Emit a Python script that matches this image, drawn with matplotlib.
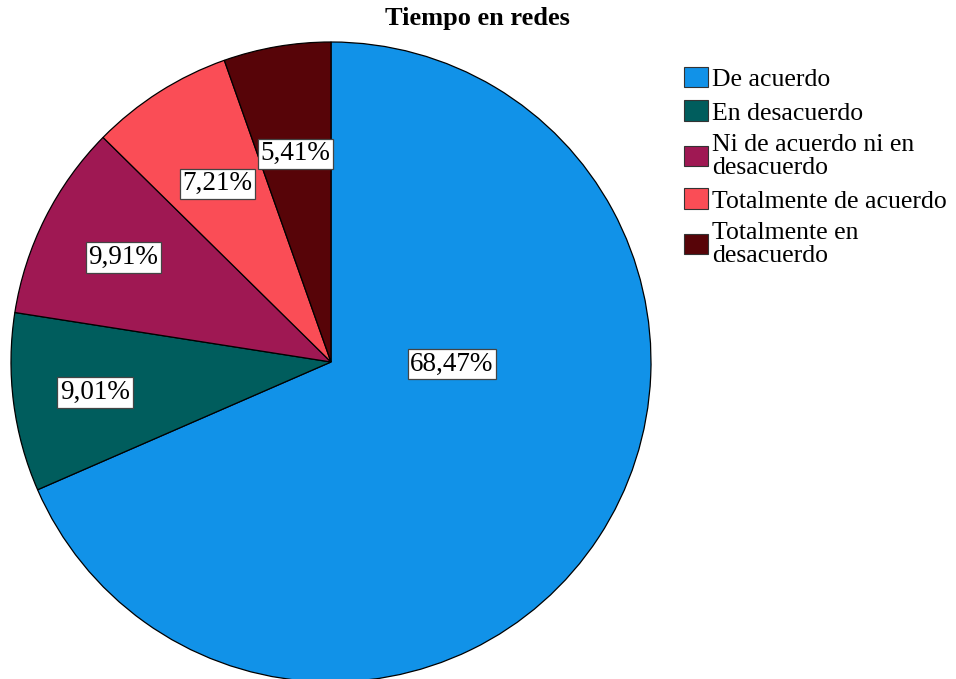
import matplotlib
matplotlib.use("Agg")
import matplotlib.pyplot as plt
import numpy as np
from matplotlib.patches import Patch

categories = ["De acuerdo", "En desacuerdo", "Ni de acuerdo ni en\ndesacuerdo",
              "Totalmente de acuerdo", "Totalmente en\ndesacuerdo"]
values = [68.47, 9.01, 9.91, 7.21, 5.41]
labels = ["68,47%", "9,01%", "9,91%", "7,21%", "5,41%"]
colors = ["#1192E8", "#005D5D", "#9F1853", "#FA4D56", "#570408"]

plt.rcParams['font.family'] = ['Liberation Serif', 'DejaVu Serif']

W, H = 956, 679
fig = plt.figure(figsize=(W / 100, H / 100), dpi=100)
ax = fig.add_axes([0, 0, 1, 1])

cx, cy, R = 331, H - 362, 320
wedges, _ = ax.pie(values, colors=colors, startangle=90, counterclock=False,
                   center=(cx, cy), radius=R, frame=True,
                   wedgeprops=dict(edgecolor='black', linewidth=0.9))
ax.set_xlim(0, W)
ax.set_ylim(0, H)
ax.set_axis_off()

# label placement: radius fraction and optional angle override
rfrac = [0.378, 0.744, 0.727, 0.66, 0.66]
angle_override = [-1, None, None, None, None]
for w, lab, rf, ao in zip(wedges, labels, rfrac, angle_override):
    ang = ao if ao is not None else (w.theta1 + w.theta2) / 2
    x = cx + rf * R * np.cos(np.radians(ang))
    y = cy + rf * R * np.sin(np.radians(ang))
    ax.text(x, y, lab, ha='center', va='center', fontsize=19.5,
            bbox=dict(boxstyle='square,pad=0.1', facecolor='white',
                      edgecolor='#444444', linewidth=0.9))

fig.text(477 / W, 1 - 19 / H, "Tiempo en redes", ha='center', va='center',
         fontsize=19, fontweight='bold')

handles = [Patch(facecolor=c, edgecolor='#333333', linewidth=0.8) for c in colors]
leg = fig.legend(handles, categories, loc='upper left',
                 bbox_to_anchor=(684 / W, 1 - 67 / H), frameon=False,
                 fontsize=18.5, handlelength=0.95, handleheight=0.85,
                 handletextpad=0.15, labelspacing=0.36, borderpad=0,
                 borderaxespad=0)
for t in leg.get_texts():
    t.set_linespacing(1.08)

fig.savefig("out.png", dpi=100)
